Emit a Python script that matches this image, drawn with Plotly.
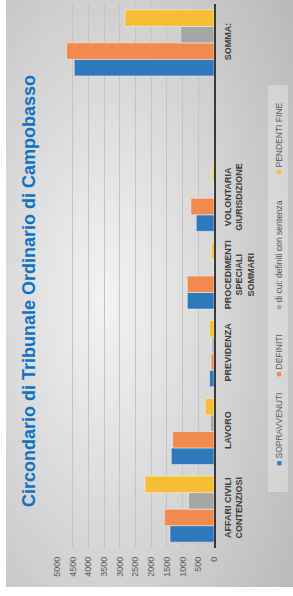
import base64
import struct
import zlib

import plotly.graph_objects as go

# ---------------- data ----------------
categories = [
    "AFFARI CIVILI<br>CONTENZIOSI",
    "LAVORO",
    "PREVIDENZA",
    "PROCEDIMENTI<br>SPECIALI<br>SOMMARI",
    "VOLONTARIA<br>GIURISDIZIONE",
    " ",
    "SOMMA:",
]
series_names = [
    "SOPRAVVENUTI",
    "DEFINITI",
    "di cui: definiti con sentenza",
    "PENDENTI FINE",
]
sopravvenuti = [1400, 1360, 140, 850, 565, None, 4450]
definiti = [1580, 1315, 90, 850, 735, None, 4695]
con_sentenza = [810, 110, 65, 0, 0, None, 1060]
pendenti_fine = [2195, 280, 140, 85, 55, None, 2835]
value_ticks = [0, 500, 1000, 1500, 2000, 2500, 3000, 3500, 4000, 4500, 5000]

colors = ["#2E78BC", "#F08A4E", "#A6A6A6", "#F6BE34"]
title_text = "Circondario di Tribunale Ordinario di Campobasso"

# ---------------- geometry helpers ----------------
W, H = 293, 596
ML, MR, MT, MB = 57, 79, 4, 48
PL, PR, PT, PB = ML, W - MR, MT, H - MB


def xp(px):
    return (px - PL) / (PR - PL)


def yp(py):
    return (PB - py) / (PB - PT)


# ---------------- background gradient image ----------------
def gradient_png(w, h):
    rows = []
    fw, fh = 287.0, 587.0
    cx, cy, rx, ry = 100.0, 300.0, 200.0, 420.0
    for j in range(h):
        row = bytearray([0])
        y = (j + 0.5) / h * fh
        for i in range(w):
            x = (i + 0.5) / w * fw
            d = (((x - cx) / rx) ** 2 + ((y - cy) / ry) ** 2) ** 0.5
            v = int(max(182, min(244, 244 - 50 * d)))
            row.append(v)
        rows.append(bytes(row))
    raw = b"".join(rows)

    def chunk(tag, data):
        c = struct.pack(">I", len(data)) + tag + data
        return c + struct.pack(">I", zlib.crc32(tag + data) & 0xFFFFFFFF)

    png = b"\x89PNG\r\n\x1a\n"
    png += chunk(b"IHDR", struct.pack(">IIBBBBB", w, h, 8, 0, 0, 0, 0))
    png += chunk(b"IDAT", zlib.compress(raw, 9))
    png += chunk(b"IEND", b"")
    return "data:image/png;base64," + base64.b64encode(png).decode()


bg_src = gradient_png(72, 146)

# ---------------- figure ----------------
fig = go.Figure()
for name, vals, col in zip(
    series_names, [sopravvenuti, definiti, con_sentenza, pendenti_fine], colors
):
    fig.add_trace(
        go.Bar(
            y=categories,
            x=vals,
            name=name,
            orientation="h",
            marker=dict(color=col, line=dict(color="rgba(255,255,255,0.55)", width=0.8)),
            showlegend=False,
        )
    )

annotations = [
    dict(
        text="<b>" + title_text + "</b>",
        xref="paper",
        yref="paper",
        x=xp(29),
        y=yp(291),
        textangle=-90,
        showarrow=False,
        font=dict(family="Liberation Sans", size=18, color="#0B72C4"),
        xanchor="center",
        yanchor="middle",
    )
]

legend_pos = [430, 356, 255, 139]
for name, col, cy in zip(series_names, colors, legend_pos):
    annotations.append(
        dict(
            text='<span style="color:%s">■</span> %s' % (col, name),
            xref="paper",
            yref="paper",
            x=xp(279),
            y=yp(cy),
            textangle=-90,
            showarrow=False,
            font=dict(family="Liberation Sans", size=8.5, color="#595959"),
            xanchor="center",
            yanchor="middle",
        )
    )

fig.update_layout(
    width=W,
    height=H,
    margin=dict(l=ML, r=MR, t=MT, b=MB, pad=0),
    paper_bgcolor="white",
    plot_bgcolor="rgba(0,0,0,0)",
    barmode="group",
    bargap=0.15,
    bargroupgap=0,
    showlegend=False,
    annotations=annotations,
    images=[
        dict(
            source=bg_src,
            xref="paper",
            yref="paper",
            x=xp(6),
            y=yp(0),
            sizex=xp(293) - xp(6),
            sizey=yp(0) - yp(587),
            sizing="stretch",
            xanchor="left",
            yanchor="top",
            layer="below",
        )
    ],
    shapes=[
        dict(
            type="rect",
            xref="paper",
            yref="paper",
            x0=xp(268),
            x1=xp(288),
            y0=yp(85),
            y1=yp(492),
            fillcolor="rgba(255,255,255,0.3)",
            line=dict(width=0),
            layer="below",
        )
    ],
    xaxis=dict(
        range=[5000, 0],
        tickvals=value_ticks,
        ticktext=[str(v) for v in value_ticks],
        tickangle=-90,
        showgrid=True,
        gridcolor="#C4C4C4",
        gridwidth=1,
        zeroline=False,
        showline=False,
        ticks="",
        ticklabelstandoff=6,
        tickfont=dict(family="Liberation Sans", size=9, color="#595959"),
    ),
    yaxis=dict(
        type="category",
        categoryorder="array",
        categoryarray=categories,
        side="right",
        tickangle=-90,
        showgrid=False,
        zeroline=False,
        showline=True,
        linecolor="#3A3A3A",
        linewidth=2,
        ticks="",
        ticklabelstandoff=4,
        tickfont=dict(family="Liberation Sans", size=9, color="#404040", weight="bold"),
    ),
)

fig.write_html(
    "out.html",
    config={"displayModeBar": False},
    post_script="document.body.style.margin='0px';",
)
